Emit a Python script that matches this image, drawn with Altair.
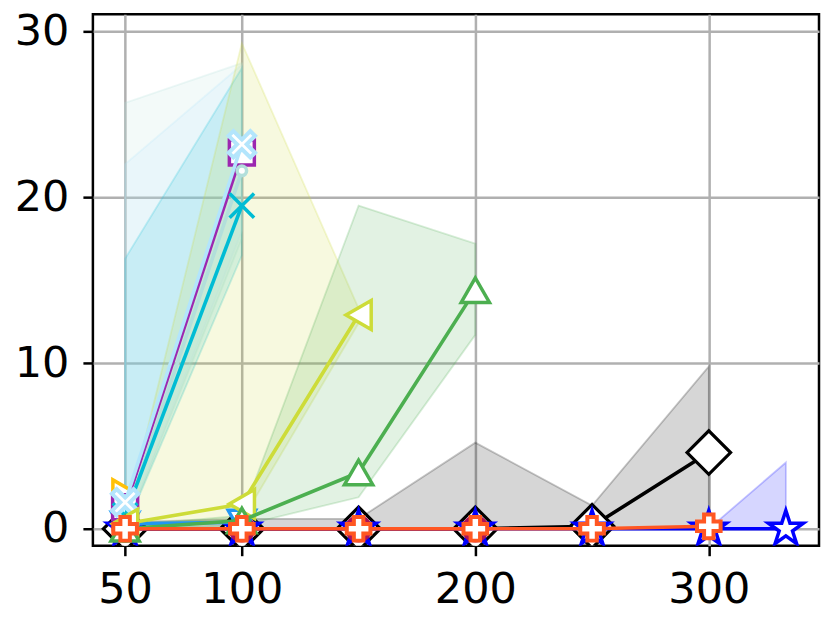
import altair as alt
import pandas as pd

# ---------------- data ----------------
x_black = [50, 100, 150, 200, 250, 300]
y_black = [0, 0, 0, 0, 0.15, 4.6]
lo_black = [0, 0, 0, 0, 0, 0]
hi_black = [0.4, 0.6, 0.6, 5.2, 1.4, 9.8]

x_star = [50, 100, 150, 200, 250, 300, 333]
y_star = [0, 0, 0, 0, 0, 0, 0]
lo_star = [0, 0, 0, 0, 0, 0, 0]
hi_star = [0, 0, 0, 0, 0, 0, 4.0]

x_crimson = [50, 100, 150, 200]
y_crimson = [0, 0, 0, 0]

x_bluev = [50, 100]
y_bluev = [0.3, 0.4]

x_amber = [50]
y_amber = [2.1]

x_purple = [50, 100]
y_purple = [1.3, 22.7]

x_teal = [50, 100]
y_teal = [0.6, 21.6]
lo_teal = [0, 17.5]
hi_teal = [25.7, 28.1]

x_cyan = [50, 100]
y_cyan = [0.8, 19.5]
lo_cyan = [0, 16.5]
hi_cyan = [16.3, 27.8]

x_lblue = [50, 100]
y_lblue = [1.6, 23.2]
lo_lblue = [0, 18.0]
hi_lblue = [22.0, 28.0]

x_lime = [50, 100, 150]
y_lime = [0.3, 1.5, 12.9]
lo_lime = [0, 0.5, 12.4]
hi_lime = [0.5, 29.3, 13.3]

x_green = [50, 100, 150, 200]
y_green = [0, 0.5, 3.4, 14.4]
lo_green = [0, 0.2, 1.9, 11.7]
hi_green = [0.2, 0.8, 19.5, 17.2]

x_orange = [50, 100, 150, 200, 250, 300]
y_orange = [0, 0, 0, 0, 0, 0.15]

x_ticks = [50, 100, 200, 300]
y_ticks = [0, 10, 20, 30]

# ---------------- marker shapes ----------------
STAR = ("M0,-1L0.2245,-0.309L0.951,-0.309L0.363,0.118L0.588,0.809L0,0.382"
        "L-0.588,0.809L-0.363,0.118L-0.951,-0.309L-0.2245,-0.309Z")
t = 0.36
XFILL = (f"M0,{-t}L{1-t},-1L1,{-1+t}L{t},0L1,{1-t}L{1-t},1L0,{t}"
         f"L{-1+t},1L-1,{1-t}L{-t},0L-1,{-1+t}L{-1+t},-1Z")
XTHIN = "M-1,-1L1,1M-1,1L1,-1"

# series: (x, y, lo, hi, color, shape, size, fill, strokeWidth)
series = [
    (x_black, y_black, lo_black, hi_black, "#000000", "diamond", 1900, "white", 3.2),
    (x_star, y_star, lo_star, hi_star, "#0000ff", STAR, 1350, "white", 3.5),
    (x_crimson, y_crimson, None, None, "#ad1457", "circle", 570, "#d81b60", 3.5),
    (x_bluev, y_bluev, None, None, "#2196f3", "triangle-down", 750, "white", 3.5),
    (x_amber, y_amber, None, None, "#ffc107", "triangle-right", 800, "white", 3.5),
    (x_purple, y_purple, None, None, "#9c27b0", "square", 625, "white", 3.5),
    (x_teal, y_teal, lo_teal, hi_teal, "#b2dfdb", "circle", 90, "white", 3.5),
    (x_cyan, y_cyan, lo_cyan, hi_cyan, "#00bcd4", XTHIN, 600, "none", 3.5),
    (x_lblue, y_lblue, lo_lblue, hi_lblue, "#b3e5fc", XFILL, 700, "white", 4),
    (x_lime, y_lime, lo_lime, hi_lime, "#cddc39", "triangle-left", 850, "white", 3.5),
    (x_green, y_green, lo_green, hi_green, "#4caf50", "triangle-up", 800, "white", 3.5),
    (x_orange, y_orange, None, None, "#ff5722", "cross", 560, "white", 4),
]

FONT = "DejaVu Sans"
xscale = alt.Scale(domain=[36.2, 347.2], nice=False, zero=False)
yscale = alt.Scale(domain=[-1.02, 31.04], nice=False, zero=False)
axis_common = dict(
    title=None, grid=True, gridColor="#b0b0b0", gridWidth=2.5,
    tickColor="black", tickWidth=2.5, tickSize=10, domain=False,
    labelFont=FONT, labelFontSize=43, labelColor="black",
    labelOverlap=False,
)
X = alt.X("x:Q", scale=xscale,
          axis=alt.Axis(values=x_ticks, labelPadding=13, **axis_common))
Y = alt.Y("y:Q", scale=yscale,
          axis=alt.Axis(values=y_ticks, labelPadding=14, **axis_common))

bands, lines_pts = [], []
for xs, ys, lo, hi, col, shp, sz, fill, sw in series:
    df = pd.DataFrame({"x": xs, "y": ys})
    if lo is not None:
        bdf = pd.DataFrame({"x": xs, "lo": lo, "hi": hi})
        bands.append(
            alt.Chart(bdf).mark_area(
                fill=col, fillOpacity=0.16, stroke=col, strokeOpacity=0.22,
                strokeWidth=1.8, clip=True
            ).encode(
                x=X,
                y=alt.Y("lo:Q", scale=yscale, stack=None,
                        axis=alt.Axis(values=y_ticks, labelPadding=14, **axis_common)),
                y2="hi:Q",
            )
        )
    if len(xs) > 1:
        lines_pts.append(
            alt.Chart(df).mark_line(color=col, strokeWidth=3.6, clip=True)
            .encode(x=X, y=Y)
        )
    lines_pts.append(
        alt.Chart(df).mark_point(
            shape=shp, size=sz, filled=True, fill=fill, stroke=col,
            strokeWidth=sw, opacity=1, fillOpacity=1, strokeOpacity=1, clip=True
        ).encode(x=X, y=Y)
    )

chart = alt.layer(*bands, *lines_pts).properties(
    width=727, height=532,
    padding={"left": 85, "top": 6, "right": 4, "bottom": 70},
    autosize=alt.AutoSizeParams(type="none"),
    background="white",
).configure_view(stroke="black", strokeWidth=2.5)

chart.save("out.html", embed_options={"renderer": "svg", "actions": False})
